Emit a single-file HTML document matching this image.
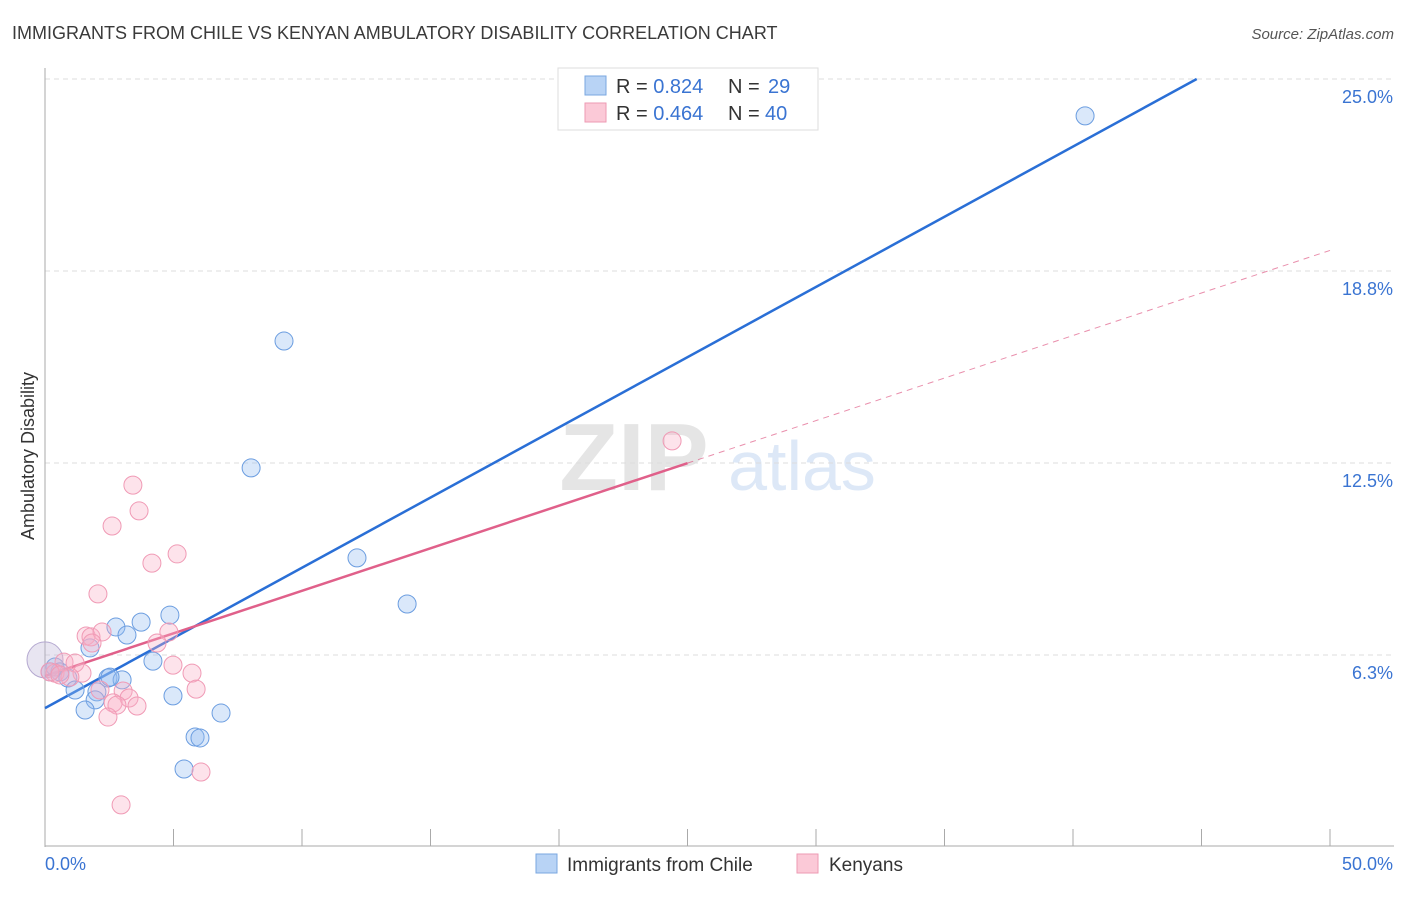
<!DOCTYPE html>
<html><head><meta charset="utf-8"><style>
body{margin:0;background:#fff;font-family:"Liberation Sans",sans-serif;}
svg text{font-family:"Liberation Sans",sans-serif;}
</style></head><body>
<svg id="chart" width="1406" height="892" xmlns="http://www.w3.org/2000/svg">
<text x="12" y="39" font-size="18" fill="#3a3a3a">IMMIGRANTS FROM CHILE VS KENYAN AMBULATORY DISABILITY CORRELATION CHART</text>
<text x="1394" y="39" font-size="15" fill="#555" font-style="italic" text-anchor="end">Source: ZipAtlas.com</text>
<text transform="translate(34,456) rotate(-90)" font-size="18" fill="#333" text-anchor="middle">Ambulatory Disability</text>
<g opacity="0.25">
<text x="634" y="490" font-size="96" font-family="Liberation Serif" fill="#999" text-anchor="middle" font-weight="bold">ZIP</text>
<text x="802" y="490" font-size="70" fill="#7aa7e0" text-anchor="middle">atlas</text>
</g>
<g id="grid"></g><g id="axes"></g><g id="lines"></g><g id="pts"></g>
<g>
<rect x="558" y="68" width="260" height="62" fill="#fff" stroke="#ddd"/>
<rect x="585" y="76" width="21" height="19" fill="#b8d3f5" stroke="#7aa7e0"/>
<rect x="585" y="103" width="21" height="19" fill="#fbc9d7" stroke="#ee9ab3"/>
<text x="616" y="93" font-size="20" fill="#333">R = <tspan fill="#3a74d2">0.824</tspan><tspan x="728">N = </tspan><tspan x="768" fill="#3a74d2">29</tspan></text>
<text x="616" y="120" font-size="20" fill="#333">R = <tspan fill="#3a74d2">0.464</tspan><tspan x="728">N = </tspan><tspan x="765" fill="#3a74d2">40</tspan></text>
</g>
<g>
<rect x="536" y="854" width="21" height="19" fill="#b8d3f5" stroke="#7aa7e0"/>
<text x="567" y="871" font-size="19" fill="#333">Immigrants from Chile</text>
<rect x="797" y="854" width="21" height="19" fill="#fbc9d7" stroke="#ee9ab3"/>
<text x="829" y="871" font-size="19" fill="#333">Kenyans</text>
</g>
</svg>
<script>
const yTicks=[6.25,12.5,18.75,25];
const yTickLabels=["6.3%","12.5%","18.8%","25.0%"];
const xTickLabels=["0.0%","50.0%"];
const chileX=[40.47,9.30,8.02,12.14,14.09,4.86,3.74,2.76,3.19,1.75,4.20,2.45,3.00,0.39,0.58,0.89,1.17,2.02,1.95,1.56,4.98,6.85,5.84,6.03,5.41,2.53,0.2,0.0];
const chileY=[23.80,16.47,12.34,9.41,7.91,7.55,7.32,7.16,6.90,6.48,6.05,5.50,5.44,5.86,5.70,5.50,5.11,5.05,4.79,4.46,4.92,4.36,3.58,3.55,2.54,5.53,5.7,6.09];
const kenX=[24.40,3.42,3.66,2.61,5.14,4.16,2.06,1.60,1.79,2.22,4.82,4.36,1.83,4.98,0.74,1.17,5.72,1.44,0.39,0.97,5.88,3.04,3.27,2.65,2.80,3.58,2.45,6.07,2.96,0.19,0.58,2.14];
const kenY=[13.22,11.78,10.94,10.45,9.54,9.24,8.24,6.87,6.84,7.00,7.00,6.64,6.64,5.92,6.02,5.99,5.66,5.66,5.66,5.53,5.14,5.08,4.85,4.69,4.62,4.59,4.23,2.44,1.37,5.70,5.60,5.11];
const chileFit=[4.52,0.457]; // intercept, slope
const kenFit=[5.57,0.277];
const ns="http://www.w3.org/2000/svg";
const X=v=>45+v/50*1285, Y=v=>847-v/25*768;
function mk(t,a,p){const e=document.createElementNS(ns,t);for(const k in a)e.setAttribute(k,a[k]);document.getElementById(p).appendChild(e);return e;}
yTicks.forEach((t,i)=>{
 const g=mk('line',{x1:45,x2:1394,y1:Y(t),y2:Y(t),stroke:'#ddd','stroke-dasharray':'5,4'},'grid');
 
 
 const l=mk('text',{x:1393,y:Y(t)+24,'font-size':18,fill:'#3a74d2','text-anchor':'end'},'axes');
 l.textContent=yTickLabels[i];
 
 
});
const ax=mk('line',{x1:45,x2:45,y1:68,y2:847,stroke:'#aaa'},'axes');


const bx=mk('line',{x1:45,x2:1394,y1:846,y2:846,stroke:'#aaa'},'axes');


for(let i=0;i<=10;i++){const t=mk('line',{x1:X(i*5),x2:X(i*5),y1:829,y2:846,stroke:'#aaa'},'axes');
 
 }
[[0,'start',45],[50,'end',1393]].forEach((d,i)=>{const t=mk('text',{x:d[2],y:870,'font-size':18,fill:'#3a74d2','text-anchor':d[1]},'axes');t.textContent=xTickLabels[i];
 
 });
const cEnd=(25-chileFit[0])/chileFit[1];
const bl=mk('line',{x1:X(0),y1:Y(chileFit[0]),x2:X(cEnd),y2:Y(25),stroke:'#2a6fd6','stroke-width':2.5},'lines');


const kSolid=25;
const pl=mk('line',{x1:X(0),y1:Y(kenFit[0]),x2:X(kSolid),y2:Y(kenFit[0]+kenFit[1]*kSolid),stroke:'#e0608a','stroke-width':2.5},'lines');


const pd=mk('line',{x1:X(kSolid),y1:Y(kenFit[0]+kenFit[1]*kSolid),x2:X(50),y2:Y(kenFit[0]+kenFit[1]*50),stroke:'#e0608a','stroke-width':1,'stroke-dasharray':'6,5',opacity:0.7},'lines');


chileX.forEach((x,i)=>{const big=i==chileX.length-1;const c=mk('circle',{cx:X(x),cy:Y(chileY[i]),r:big?18:9,fill:big?'rgba(190,180,215,0.35)':'rgba(150,190,240,0.35)',stroke:big?'#b4a8d0':'#6b9de0','stroke-width':1},'pts');
 
 });
kenX.forEach((x,i)=>{const c=mk('circle',{cx:X(x),cy:Y(kenY[i]),r:9,fill:'rgba(248,175,198,0.35)',stroke:'#f09ab5','stroke-width':1},'pts');
 
 });
</script>
</body></html>
